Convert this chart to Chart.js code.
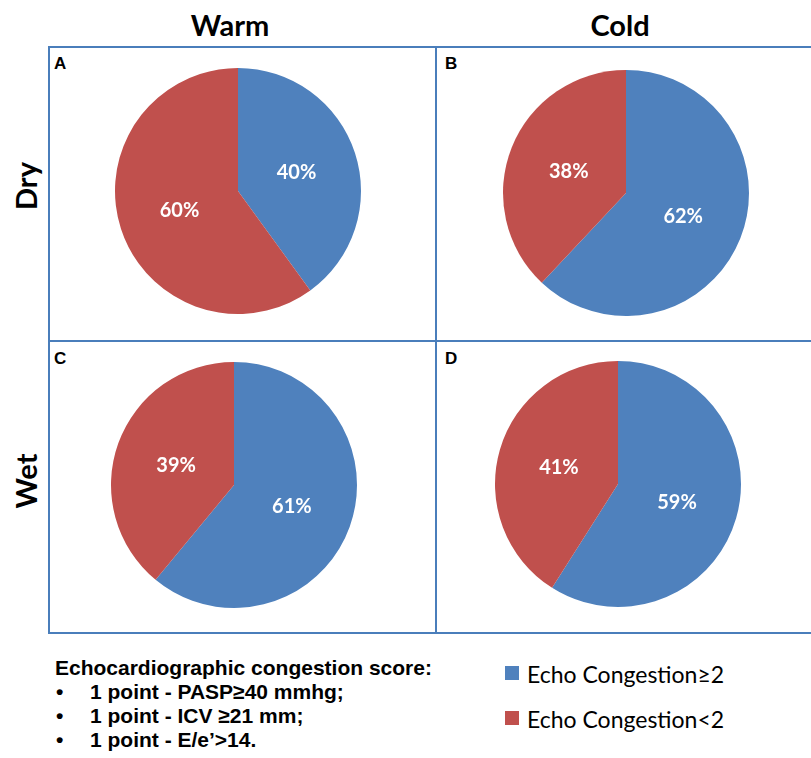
<!DOCTYPE html>
<html>
<head>
<meta charset="utf-8">
<script src="https://cdn.jsdelivr.net/npm/chart.js@4.4.0/dist/chart.umd.min.js"></script>
<style>
  html, body { margin: 0; padding: 0; background: #fff; }
  #wrap { position: relative; width: 811px; height: 758px; overflow: hidden; background: #fff; }
  .hline, .vline { position: absolute; background: #4a7ebb; }
  .hline { height: 2px; }
  .vline { width: 2px; }
  .coltitle { position: absolute; font-family: Lato, sans-serif; font-weight: 700; font-size: 29px; line-height: 1; transform: translate(-50%, -50%); white-space: nowrap; color: #000; }
  .rowtitle { position: absolute; font-family: Lato, sans-serif; font-weight: 700; font-size: 29px; line-height: 1; transform: translate(-50%, -50%) rotate(-90deg); white-space: nowrap; color: #000; }
  .letter { position: absolute; font-family: "Liberation Sans", Arial, sans-serif; font-weight: 700; font-size: 17px; line-height: 1; color: #000; }
  canvas { position: absolute; }
  .note { position: absolute; font-family: "Liberation Sans", Arial, sans-serif; font-weight: 700; font-size: 21px; line-height: 1; white-space: nowrap; color: #000; transform: translateY(-50%); }
  .leg { position: absolute; font-family: Lato, sans-serif; font-size: 23px; line-height: 1; white-space: nowrap; color: #000; transform: translateY(-50%); }
  .sw { position: absolute; width: 14px; height: 14px; }
</style>
</head>
<body>
<div id="wrap"></div>
<script>
// ---- data ----
const columnTitles = ['Warm', 'Cold'];
const rowTitles = ['Dry', 'Wet'];
const panelLetters = ['A', 'B', 'C', 'D'];
const seriesNames = ['Echo Congestion\u22652', 'Echo Congestion<2'];
const congestionHigh = [40, 62, 61, 59];   // Echo Congestion>=2 (%)
const congestionLow  = [60, 38, 39, 41];   // Echo Congestion<2 (%)
const seriesColors = ['#4f81bd', '#c0504d'];
const noteLines = [
  'Echocardiographic congestion score:',
  '1 point - PASP\u226540 mmhg;',
  '1 point - ICV \u226521 mm;',
  '1 point - E/e\u2019>14.'
];

// ---- layout ----
const wrap = document.getElementById('wrap');
function el(cls, text, style) {
  const d = document.createElement('div');
  d.className = cls;
  if (text !== null) d.textContent = text;
  Object.assign(d.style, style);
  wrap.appendChild(d);
  return d;
}
const frameL = 48, frameM = 435, frameR = 813, frameT = 46, frameH = 340, frameB = 632;
el('hline', null, { left: frameL + 'px', top: frameT + 'px', width: (frameR - frameL) + 'px' });
el('hline', null, { left: frameL + 'px', top: frameH + 'px', width: (frameR - frameL) + 'px' });
el('hline', null, { left: frameL + 'px', top: frameB + 'px', width: (frameR - frameL) + 'px' });
el('vline', null, { left: frameL + 'px', top: frameT + 'px', height: (frameB - frameT + 2) + 'px' });
el('vline', null, { left: frameM + 'px', top: frameT + 'px', height: (frameB - frameT + 2) + 'px' });

el('coltitle', columnTitles[0], { left: '230px', top: '24px' });
el('coltitle', columnTitles[1], { left: '620px', top: '24px' });
el('rowtitle', rowTitles[0], { left: '25px', top: '186px' });
el('rowtitle', rowTitles[1], { left: '25px', top: '481px' });

const letterPos = [[54, 55], [445, 55], [54, 350], [445, 350]];
const pieCenters = [[238, 191], [626, 193], [234, 485], [618, 484]];

const labelPlugin = {
  id: 'sliceLabels',
  afterDatasetsDraw(chart) {
    const ctx = chart.ctx;
    const meta = chart.getDatasetMeta(0);
    const ds = chart.data.datasets[0];
    ctx.save();
    ctx.fillStyle = '#ffffff';
    ctx.font = 'bold 20px Lato, sans-serif';
    ctx.textAlign = 'center';
    ctx.textBaseline = 'middle';
    meta.data.forEach((arc, i) => {
      const p = arc.tooltipPosition();
      ctx.fillText(ds.data[i] + '%', p.x, p.y + 1);
    });
    ctx.restore();
  }
};

panelLetters.forEach((letter, i) => {
  el('letter', letter, { left: letterPos[i][0] + 'px', top: letterPos[i][1] + 'px' });
  const c = document.createElement('canvas');
  c.width = 250; c.height = 250;
  c.style.left = (pieCenters[i][0] - 125) + 'px';
  c.style.top = (pieCenters[i][1] - 125) + 'px';
  wrap.appendChild(c);
  new Chart(c, {
    type: 'pie',
    data: {
      labels: seriesNames,
      datasets: [{
        data: [congestionHigh[i], congestionLow[i]],
        backgroundColor: seriesColors,
        borderWidth: 0
      }]
    },
    options: {
      responsive: false,
      animation: false,
      devicePixelRatio: 1,
      layout: { padding: 2 },
      plugins: { legend: { display: false }, tooltip: { enabled: false } }
    },
    plugins: [labelPlugin]
  });
});

// ---- notes ----
const noteMid = [667, 691, 715, 739];
noteLines.forEach((t, i) => {
  if (i === 0) {
    el('note', t, { left: '55px', top: noteMid[i] + 'px' });
  } else {
    el('note', '\u2022', { left: '56px', top: noteMid[i] + 'px' });
    el('note', t, { left: '90px', top: noteMid[i] + 'px' });
  }
});

// ---- legend ----
const legY = [673, 718];
seriesNames.forEach((n, i) => {
  el('sw', null, { left: '505px', top: (legY[i] - 7) + 'px', background: seriesColors[i] });
  el('leg', n, { left: '527px', top: (legY[i] + 1) + 'px' });
});
</script>
</body>
</html>
